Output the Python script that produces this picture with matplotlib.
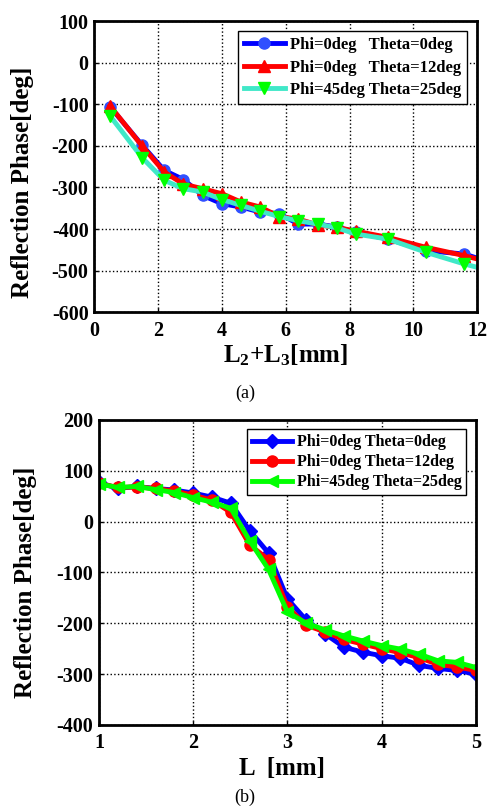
import matplotlib.pyplot as plt

plt.rcParams['font.family'] = ['Liberation Serif', 'DejaVu Serif']
plt.rcParams['axes.unicode_minus'] = False
plt.rcParams['mathtext.fontset'] = 'custom'
plt.rcParams['mathtext.rm'] = 'Liberation Serif:bold'
plt.rcParams['mathtext.it'] = 'Liberation Serif:bold'
plt.rcParams['mathtext.bf'] = 'Liberation Serif:bold'

# panel (a) data
len_a = [0.5, 1.5, 2.2, 2.8, 3.4, 4.0, 4.6, 5.2, 5.8, 6.4, 7.0, 7.6, 8.2, 9.2, 10.4, 11.6, 12.4]
phase_a_0 = [-106, -198, -259, -281, -319, -339, -347, -359, -363, -388, -388, -395, -408, -424, -452, -460, -480]
phase_a_12 = [-104, -200, -263, -292, -303, -315, -335, -347, -370, -376, -390, -396, -405, -420, -444, -464, -480]
phase_a_25 = [-128, -228, -283, -303, -311, -329, -343, -357, -370, -380, -388, -397, -412, -424, -456, -484, -500]
labels_a = ['Phi=0deg   Theta=0deg', 'Phi=0deg   Theta=12deg', 'Phi=45deg Theta=25deg']

# panel (b) data
len_b = [1.0, 1.2, 1.4, 1.6, 1.8, 2.0, 2.2, 2.4, 2.6, 2.8, 3.0, 3.2, 3.4, 3.6, 3.8, 4.0, 4.2, 4.4, 4.6, 4.8, 5.0]
phase_b_0 = [77, 65, 69, 65, 62, 56, 48, 36, -18, -62, -152, -194, -221, -247, -257, -264, -269, -283, -289, -293, -300]
phase_b_12 = [75, 67, 68, 65, 60, 52, 42, 18, -46, -75, -168, -204, -217, -232, -241, -250, -258, -268, -281, -286, -293]
phase_b_25 = [74, 67, 69, 63, 57, 47, 38, 26, -38, -94, -178, -200, -213, -225, -235, -244, -251, -261, -274, -277, -287]
labels_b = ['Phi=0deg Theta=0deg', 'Phi=0deg Theta=12deg', 'Phi=45deg Theta=25deg']

fig = plt.figure(figsize=(4.9, 8.09), dpi=100)
bold = dict(fontweight='bold')


def style_axes(ax):
    for s in ax.spines.values():
        s.set_linewidth(2)
    ax.grid(True, color='black', linestyle=':', linewidth=1)
    ax.tick_params(direction='in', length=3, width=1, labelsize=14.5)
    ax.tick_params(axis='x', pad=6)
    ax.tick_params(axis='y', pad=4)
    for t in ax.get_xticklabels() + ax.get_yticklabels():
        t.set_fontweight('bold')


# (a)
ax1 = fig.add_axes([0.192, 0.614, 0.782, 0.360])
ax1.plot(len_a, phase_a_0, color='#0000ff', lw=3.5, marker='o', ms=8, mfc='#3050ff', mec='#3050ff', label=labels_a[0])
ax1.plot(len_a, phase_a_12, color='#ff0000', lw=3.5, marker='^', ms=8, mfc='#ff0000', mec='#ff0000', label=labels_a[1])
ax1.plot(len_a, phase_a_25, color='#40e8c8', lw=3.5, marker='v', ms=8, mfc='#00ff00', mec='#00ff00', label=labels_a[2])
ax1.set_xlim(0, 12)
ax1.set_ylim(-600, 100)
ax1.set_xticks(range(0, 13, 2))
ax1.set_yticks(range(-600, 101, 100))
style_axes(ax1)
ax1.set_xlabel('L$_2$+L$_3$[mm]', fontsize=18, **bold)
ax1.set_ylabel('Reflection Phase[deg]', fontsize=18, **bold)
ax1.xaxis.set_label_coords(0.5, -0.103)
ax1.yaxis.set_label_coords(-0.157, 0.447)
leg1 = ax1.legend(loc='upper right', prop={'weight': 'bold', 'size': 12},
                  handlelength=2.5, fancybox=False, edgecolor='black', framealpha=1,
                  borderpad=0.35, labelspacing=0.4, handletextpad=0.3, borderaxespad=0.6)
leg1.get_frame().set_linewidth(1)
fig.text(0.5, 1 - 393 / 809, '(a)', ha='center', va='center', fontsize=13)

# (b)
ax2 = fig.add_axes([0.202, 0.104, 0.769, 0.377])
ax2.plot(len_b, phase_b_0, color='#0000ff', lw=3.5, marker='D', ms=7, mfc='#0000ff', mec='#0000ff', label=labels_b[0])
ax2.plot(len_b, phase_b_12, color='#ff0000', lw=3.5, marker='o', ms=8, mfc='#ff0000', mec='#ff0000', label=labels_b[1])
ax2.plot(len_b, phase_b_25, color='#00ff00', lw=3.5, marker='<', ms=9, mfc='#00ff00', mec='#00ff00', label=labels_b[2])
ax2.set_xlim(1, 5)
ax2.set_ylim(-400, 200)
ax2.set_xticks(range(1, 6))
ax2.set_yticks(range(-400, 201, 100))
style_axes(ax2)
ax2.set_xlabel('L  [mm]', fontsize=18, **bold)
ax2.set_ylabel('Reflection Phase[deg]', fontsize=18, **bold)
ax2.xaxis.set_label_coords(0.485, -0.105)
ax2.yaxis.set_label_coords(-0.164, 0.469)
leg2 = ax2.legend(loc='upper right', prop={'weight': 'bold', 'size': 11.5},
                  handlelength=2.5, fancybox=False, edgecolor='black', framealpha=1,
                  borderpad=0.3, labelspacing=0.25, handletextpad=0.3, borderaxespad=0.6)
leg2.get_frame().set_linewidth(1)
fig.text(0.5, 1 - 797 / 809, '(b)', ha='center', va='center', fontsize=13)

fig.savefig('out.png', dpi=100)
